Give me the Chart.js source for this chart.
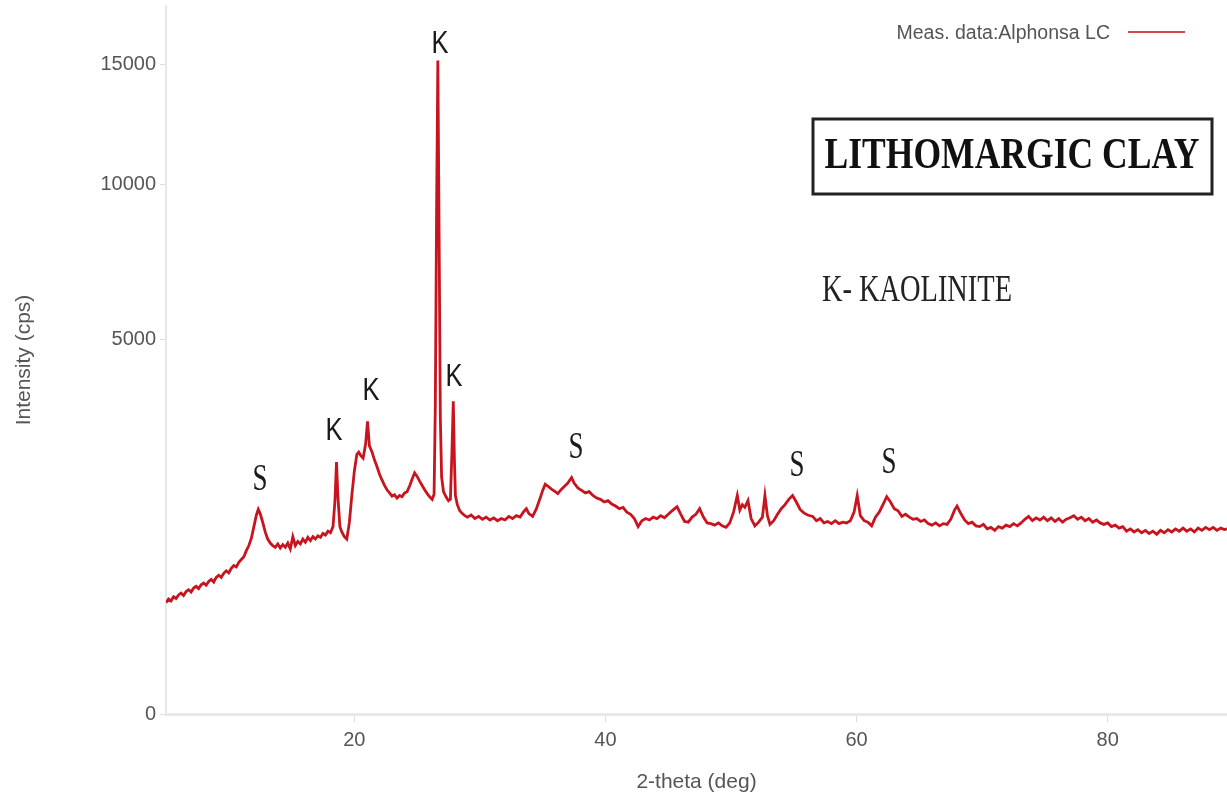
<!DOCTYPE html>
<html lang="en">
<head>
  <meta charset="UTF-8">
  <title>Lithomargic Clay XRD</title>
  <script src="https://cdn.jsdelivr.net/npm/chart.js@4.4.1/dist/chart.umd.min.js"></script>
  <style>
    html, body { margin: 0; padding: 0; background: #fff; }
    #wrap { width: 1227px; height: 794px; position: relative; }
  </style>
</head>
<body>
  <div id="wrap"><canvas id="xrd"></canvas></div>

  <script>
    const twoTheta = [
      5.0, 5.2, 5.4, 5.6, 5.8, 6.0, 6.2, 6.4, 6.6, 6.8,
      7.0, 7.2, 7.4, 7.6, 7.8, 8.0, 8.2, 8.4, 8.6, 8.8,
      9.0, 9.2, 9.4, 9.6, 9.8, 10.0, 10.2, 10.4, 10.6, 10.8,
      11.0, 11.2, 11.4, 11.6, 11.8, 12.0, 12.2, 12.35, 12.5, 12.7,
      12.9, 13.1, 13.3, 13.5, 13.7, 13.9, 14.1, 14.3, 14.5, 14.7,
      14.9, 15.1, 15.3, 15.5, 15.7, 15.9, 16.1, 16.3, 16.5, 16.7,
      16.9, 17.1, 17.3, 17.5, 17.7, 17.9, 18.1, 18.3, 18.45, 18.58,
      18.7, 18.85, 19.0, 19.2, 19.4, 19.6, 19.8, 20.0, 20.2, 20.35,
      20.5, 20.7, 20.9, 21.05, 21.2, 21.4, 21.6, 21.8, 22.0, 22.2,
      22.4, 22.6, 22.8, 23.0, 23.2, 23.4, 23.6, 23.8, 24.0, 24.2,
      24.4, 24.6, 24.8, 25.0, 25.2, 25.4, 25.6, 25.8, 26.0, 26.2,
      26.35, 26.45, 26.55, 26.65, 26.75, 26.85, 26.95, 27.1, 27.3, 27.5,
      27.65, 27.78, 27.88, 27.97, 28.05, 28.2, 28.4, 28.6, 28.8, 29.0,
      29.3, 29.6, 29.9, 30.2, 30.5, 30.8, 31.1, 31.4, 31.7, 32.0,
      32.3, 32.6, 32.9, 33.2, 33.5, 33.7, 33.9, 34.2, 34.5, 34.8,
      35.0, 35.2, 35.4, 35.7, 36.0, 36.2, 36.5, 36.8, 37.0, 37.3,
      37.5, 37.8, 38.1, 38.4, 38.7, 39.0, 39.3, 39.6, 39.9, 40.2,
      40.5, 40.8, 41.1, 41.4, 41.7, 42.0, 42.3, 42.6, 42.9, 43.2,
      43.5, 43.8, 44.1, 44.4, 44.7, 45.0, 45.3, 45.7, 46.0, 46.3,
      46.6, 46.9, 47.2, 47.5, 47.8, 48.1, 48.4, 48.7, 49.0, 49.3,
      49.6, 49.9, 50.2, 50.5, 50.7, 50.9, 51.1, 51.35, 51.6, 51.9,
      52.2, 52.5, 52.7, 52.9, 53.1, 53.4, 53.7, 54.0, 54.3, 54.6,
      54.9, 55.2, 55.5, 55.8, 56.1, 56.5, 56.8, 57.1, 57.4, 57.7,
      58.0, 58.3, 58.6, 58.9, 59.2, 59.5, 59.8, 60.05, 60.3, 60.6,
      60.9, 61.2, 61.5, 61.8, 62.1, 62.4, 62.7, 63.0, 63.3, 63.6,
      63.9, 64.2, 64.5, 64.8, 65.1, 65.4, 65.7, 66.0, 66.3, 66.6,
      66.9, 67.2, 67.5, 67.8, 68.0, 68.3, 68.6, 68.9, 69.2, 69.5,
      69.8, 70.1, 70.4, 70.7, 71.0, 71.3, 71.6, 71.9, 72.2, 72.5,
      72.8, 73.1, 73.4, 73.7, 74.0, 74.3, 74.6, 74.9, 75.2, 75.5,
      75.8, 76.1, 76.4, 76.7, 77.0, 77.3, 77.6, 77.9, 78.2, 78.5,
      78.8, 79.1, 79.4, 79.7, 80.0, 80.3, 80.6, 80.9, 81.2, 81.5,
      81.8, 82.1, 82.4, 82.7, 83.0, 83.3, 83.6, 83.9, 84.2, 84.5,
      84.8, 85.1, 85.4, 85.7, 86.0, 86.3, 86.6, 86.9, 87.2, 87.5,
      87.8, 88.1, 88.4, 88.7, 89.0, 89.3, 89.5
    ];
    const intensity = [
      440, 470, 455, 490, 475, 505, 520, 500, 535, 550,
      530, 565, 580, 560, 595, 610, 590, 625, 645, 620,
      665, 685, 665, 705, 730, 710, 755, 785, 770, 820,
      850, 880, 950, 1010, 1100, 1250, 1410, 1490, 1430, 1310,
      1180, 1090, 1040, 1010, 990, 1030, 980, 1020, 990, 1040,
      970, 1120, 1010, 1060, 1030, 1090, 1050, 1110, 1070, 1120,
      1090, 1130, 1110, 1160, 1140, 1190, 1170, 1250, 1600, 2260,
      1650, 1250, 1180, 1120, 1090, 1300, 1700, 2100, 2400, 2440,
      2380, 2330, 2600, 3050, 2560, 2450, 2300, 2180, 2050, 1950,
      1860, 1790, 1740, 1690, 1710, 1660, 1700, 1680, 1740, 1760,
      1850, 1960, 2070, 2010, 1930, 1860, 1790, 1730, 1680, 1640,
      1720, 3400, 9000, 15200, 8200, 3100, 2000, 1760, 1680, 1620,
      1640, 2500, 3480, 2300, 1700, 1560, 1470, 1430, 1400, 1380,
      1410, 1360, 1390, 1350, 1380, 1340, 1370, 1330, 1360, 1340,
      1390, 1360, 1400, 1380, 1460, 1500, 1430, 1390, 1500, 1660,
      1780, 1880, 1850, 1800, 1760, 1730, 1800, 1860, 1900, 1990,
      1900, 1820, 1780, 1740, 1760, 1700, 1660, 1640, 1600, 1620,
      1570, 1540, 1500, 1520, 1450, 1420, 1360, 1250, 1330, 1360,
      1340, 1380, 1360, 1400, 1370, 1420, 1470, 1530, 1420, 1320,
      1310, 1380, 1420, 1500, 1380, 1300, 1290, 1270, 1300, 1260,
      1240, 1300, 1450, 1700, 1480, 1560, 1520, 1620, 1360, 1260,
      1310, 1380, 1700, 1400, 1280, 1330, 1420, 1500, 1560, 1640,
      1700, 1600, 1490, 1440, 1410, 1390, 1330, 1360, 1300, 1320,
      1290, 1330, 1290, 1310, 1300, 1330, 1450, 1700, 1400, 1330,
      1310, 1260, 1380, 1450, 1560, 1680, 1600, 1500, 1470, 1390,
      1420, 1380, 1350, 1360, 1320, 1340, 1290, 1270, 1300, 1260,
      1290, 1280, 1350, 1480, 1540, 1430, 1340, 1290, 1310, 1260,
      1250, 1280, 1220, 1240, 1200, 1250, 1230, 1270, 1250, 1290,
      1260, 1300, 1350, 1390, 1330, 1370, 1340, 1380, 1330, 1370,
      1320, 1360, 1310, 1350, 1370, 1400, 1350, 1380, 1330, 1360,
      1310, 1340, 1300, 1280, 1300, 1250, 1270, 1230, 1250, 1190,
      1220, 1180, 1210, 1170, 1200, 1160, 1190, 1150, 1200, 1170,
      1210, 1180, 1220, 1190, 1230, 1190, 1220, 1180, 1230, 1200,
      1240, 1210, 1240, 1200, 1230, 1210, 1220
    ];

    const xTicks = [20, 40, 60, 80];
    const yTicks = [0, 5000, 10000, 15000];

    // peak markers: S / K letters placed above the reflections (deg, cps)
    const peakLabels = ['S', 'K', 'K', 'K', 'K', 'S', 'S', 'S'];
    const peakX = [12.49, 18.38, 21.33, 26.82, 27.94, 37.65, 55.25, 62.58];
    const peakY = [1941, 2841, 3703, 15950, 4031, 2528, 2181, 2234];

    // square-root intensity axis, as in the original plot
    class SqrtScale extends Chart.LinearScale {
      getPixelForValue(value) {
        const lo = Math.sqrt(Math.max(this.min, 0));
        const hi = Math.sqrt(this.max);
        return this.getPixelForDecimal((Math.sqrt(Math.max(value, 0)) - lo) / (hi - lo));
      }
      getValueForPixel(pixel) {
        const lo = Math.sqrt(Math.max(this.min, 0));
        const hi = Math.sqrt(this.max);
        const s = lo + this.getDecimalForPixel(pixel) * (hi - lo);
        return s * s;
      }
    }
    SqrtScale.id = 'sqrt';
    SqrtScale.defaults = Chart.LinearScale.defaults;
    Chart.register(SqrtScale);

    const annotations = {
      id: 'annotations',
      afterDatasetsDraw(chart) {
        const ctx = chart.ctx;
        const xs = chart.scales.x, ys = chart.scales.y;
        ctx.save();
        ctx.textAlign = 'center';
        ctx.textBaseline = 'middle';
        ctx.fillStyle = '#1a1a1a';
        peakLabels.forEach((lab, i) => {
          const px = xs.getPixelForValue(peakX[i]);
          const py = ys.getPixelForValue(peakY[i]);
          if (lab === 'S') {
            ctx.font = '38px "Liberation Serif", serif';
            ctx.fillText(lab, px, py, 15);
          } else {
            ctx.font = '31px "Liberation Sans", sans-serif';
            ctx.fillText(lab, px, py, 17);
          }
        });

        // boxed sample name
        ctx.lineWidth = 3;
        ctx.strokeStyle = '#222';
        ctx.strokeRect(813, 119, 399, 75);
        ctx.font = 'bold 44px "Liberation Serif", serif';
        ctx.fillStyle = '#111';
        ctx.fillText('LITHOMARGIC CLAY', 1012, 157, 375);

        ctx.textAlign = 'left';
        ctx.font = '37px "Liberation Serif", serif';
        ctx.fillStyle = '#222';
        ctx.fillText('K- KAOLINITE', 822, 291, 190);

        // legend entry
        ctx.textAlign = 'right';
        ctx.font = '19.5px "Liberation Sans", sans-serif';
        ctx.fillStyle = '#555';
        ctx.fillText(chart.data.datasets[0].label, 1110, 34);
        ctx.strokeStyle = '#d04a4a';
        ctx.lineWidth = 2;
        ctx.beginPath();
        ctx.moveTo(1128, 32);
        ctx.lineTo(1185, 32);
        ctx.stroke();
        ctx.restore();
      }
    };

    const ctx = document.getElementById('xrd').getContext('2d');
    new Chart(ctx, {
      type: 'line',
      data: {
        datasets: [{
          label: 'Meas. data:Alphonsa LC',
          data: twoTheta.map((x, i) => ({ x: x, y: intensity[i] })),
          borderColor: '#c8141e',
          borderWidth: 2.8,
          pointRadius: 0,
          tension: 0,
          fill: false
        }]
      },
      options: {
        responsive: true,
        maintainAspectRatio: false,
        animation: false,
        layout: { padding: { top: 6, right: 0, left: 0, bottom: 0 } },
        plugins: {
          legend: { display: false },
          tooltip: { enabled: false }
        },
        scales: {
          x: {
            type: 'linear',
            min: 5,
            max: 89.5,
            afterBuildTicks: (axis) => { axis.ticks = xTicks.map(v => ({ value: v })); },
            afterFit: (axis) => { axis.height = 80; },
            ticks: {
              font: { family: '"Liberation Sans", sans-serif', size: 20 },
              color: '#555',
              padding: 6,
              maxRotation: 0
            },
            grid: { drawOnChartArea: false, tickLength: 8, color: '#ddd' },
            border: { color: '#e8e8e8', width: 3 },
            title: {
              display: true,
              text: '2-theta (deg)',
              font: { family: '"Liberation Sans", sans-serif', size: 21, lineHeight: 1.1 },
              color: '#555',
              padding: { top: 0, bottom: 0 }
            }
          },
          y: {
            type: 'sqrt',
            min: 0,
            max: 17845,
            afterBuildTicks: (axis) => { axis.ticks = yTicks.map(v => ({ value: v })); },
            afterFit: (axis) => {
              axis.width = 166;
              axis.paddingTop = 0;
              axis.paddingBottom = 0;
            },
            ticks: {
              font: { family: '"Liberation Sans", sans-serif', size: 20 },
              color: '#555',
              padding: 4,
              callback: (v) => String(v)
            },
            grid: { drawOnChartArea: false, tickLength: 6, color: '#ddd' },
            border: { color: '#e8e8e8', width: 2 },
            title: {
              display: true,
              text: 'Intensity (cps)',
              font: { family: '"Liberation Sans", sans-serif', size: 21 },
              color: '#555',
              padding: { top: 12, bottom: 0 }
            }
          }
        }
      },
      plugins: [annotations]
    });
  </script>
</body>
</html>
